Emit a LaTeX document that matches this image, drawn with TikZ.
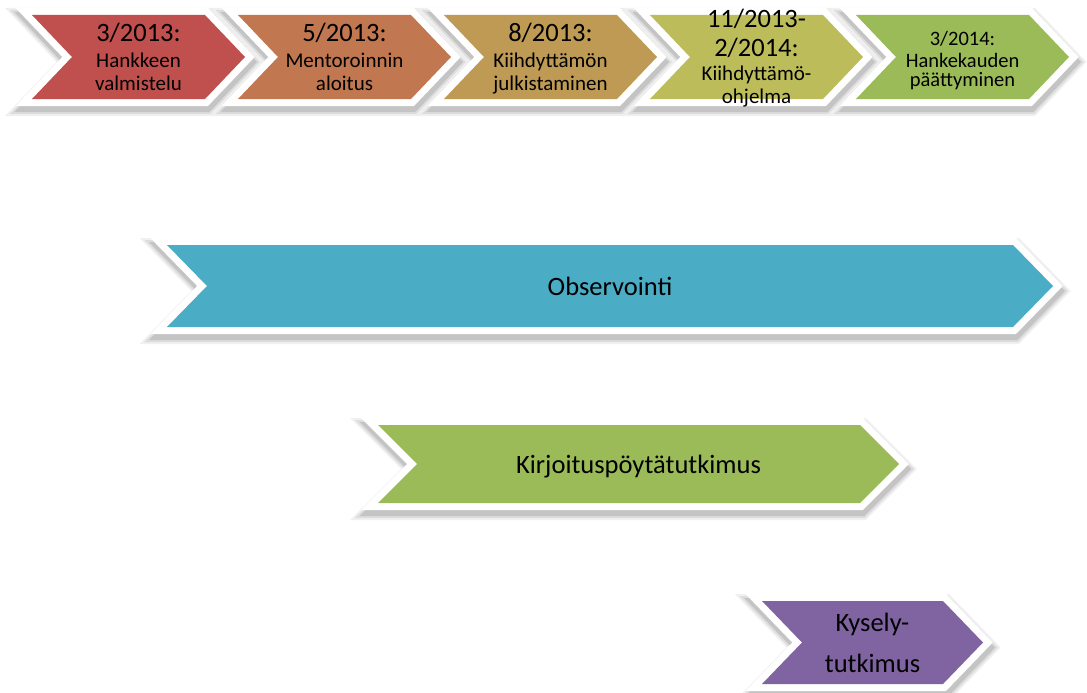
\documentclass[tikz,border=0pt]{standalone}
\usepackage{fontspec}
\setmainfont{Carlito}
\definecolor{cRed}{HTML}{C0504D}
\definecolor{cOrange}{HTML}{C17750}
\definecolor{cTan}{HTML}{BE9A55}
\definecolor{cYel}{HTML}{BCBD5A}
\definecolor{cGreen}{HTML}{9BBB59}
\definecolor{cBlue}{HTML}{4BACC6}
\definecolor{cPurple}{HTML}{8064A2}
% #1 left, #2 tip x, #3 top, #4 bottom, #5 depth, #6 colour
\newcommand{\chevron}[6]{%
  \foreach \w/\o in {24/0.06,20/0.08,16/0.11}{%
    \draw[black, opacity=\o, line width=\w pt, line join=miter, shift={(1,5)}]
      (#1,#3) -- ({#2-#5},#3) -- (#2,{(#3+#4)/2}) -- ({#2-#5},#4) -- (#1,#4) -- ({#1+#5},{(#3+#4)/2}) -- cycle;}
  \filldraw[white, line width=14pt, line join=miter]
      (#1,#3) -- ({#2-#5},#3) -- (#2,{(#3+#4)/2}) -- ({#2-#5},#4) -- (#1,#4) -- ({#1+#5},{(#3+#4)/2}) -- cycle;
  \fill[#6]
      (#1,#3) -- ({#2-#5},#3) -- (#2,{(#3+#4)/2}) -- ({#2-#5},#4) -- (#1,#4) -- ({#1+#5},{(#3+#4)/2}) -- cycle;
}
\tikzset{
  datetxt/.style={anchor=base, inner sep=0pt, text=black, font=\fontsize{26.5}{30}\selectfont},
  lbltxt/.style={anchor=base, inner sep=0pt, text=black, font=\fontsize{21}{24}\selectfont},
  smalltxt/.style={anchor=base, inner sep=0pt, text=black, font=\fontsize{20.5}{23}\selectfont},
  bigtxt/.style={anchor=base, inner sep=0pt, text=black, font=\fontsize{26.5}{30}\selectfont}
}
\begin{document}
\begin{tikzpicture}[x=1pt, y=-1pt]
\useasboundingbox[fill=white] (0,0) rectangle (1087,693);

% top timeline chevrons
\chevron{32}{245}{15}{99}{40}{cRed}
\chevron{238}{451}{15}{99}{40}{cOrange}
\chevron{444}{657}{15}{99}{40}{cTan}
\chevron{650}{863}{15}{99}{40}{cYel}
\chevron{856}{1069}{15}{99}{40}{cGreen}

\node[datetxt] (d1) at (138.5,42) {3/2013:};
\node[lbltxt] (l1a) at (138.5,67) {Hankkeen};
\node[lbltxt] (l1b) at (138.5,90) {valmistelu};

\node[datetxt] (d2) at (344.5,42) {5/2013:};
\node[lbltxt] (l2a) at (344.5,67) {Mentoroinnin};
\node[lbltxt] (l2b) at (344.5,90) {aloitus};

\node[datetxt] (d3) at (550.5,42) {8/2013:};
\node[lbltxt] (l3a) at (550.5,67) {Kiihdyttämön};
\node[lbltxt] (l3b) at (550.5,90) {julkistaminen};

\node[datetxt] (d4a) at (756.5,28) {11/2013-};
\node[datetxt] (d4b) at (756.5,57) {2/2014:};
\node[lbltxt] (l4a) at (756.5,81) {Kiihdyttämö-};
\node[lbltxt] (l4b) at (756.5,103) {ohjelma};

\node[smalltxt] (d5) at (962.5,46) {3/2014:};
\node[smalltxt] (l5a) at (962.5,67) {Hankekauden};
\node[smalltxt] (l5b) at (962.5,87) {päättyminen};

% research method chevrons
\chevron{167}{1053}{245}{327}{40}{cBlue}
\node[bigtxt] (obs) at (610,295) {Observointi};

\chevron{378}{899}{425}{503}{39}{cGreen}
\node[bigtxt] (kirj) at (638.5,473) {Kirjoituspöytätutkimus};

\chevron{762}{983}{601}{684}{40}{cPurple}
\node[bigtxt] (kys1) at (872.5,631) {Kysely-};
\node[bigtxt] (kys2) at (872.5,672) {tutkimus};
\end{tikzpicture}
\end{document}
